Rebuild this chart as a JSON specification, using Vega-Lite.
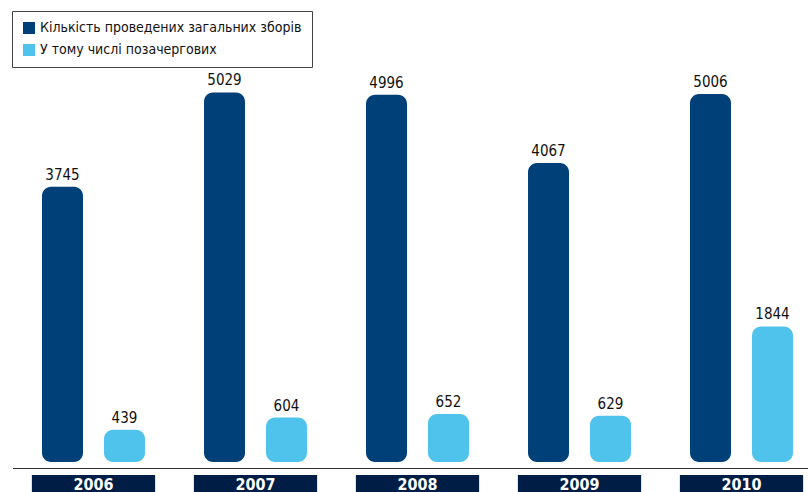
{
  "$schema": "https://vega.github.io/schema/vega-lite/v6.json",
  "autosize": "none",
  "width": 796,
  "height": 492,
  "padding": {"left": 12, "top": 0, "right": 0, "bottom": 0},
  "background": "white",
  "config": {
    "view": {"stroke": null},
    "font": "'DejaVu Sans Condensed', Roboto, sans-serif"
  },
  "data": {
    "values": [
      {"year": "2006", "series": "Кількість проведених загальних зборів", "value": 3745},
      {"year": "2006", "series": "У тому числі позачергових", "value": 439},
      {"year": "2007", "series": "Кількість проведених загальних зборів", "value": 5029},
      {"year": "2007", "series": "У тому числі позачергових", "value": 604},
      {"year": "2008", "series": "Кількість проведених загальних зборів", "value": 4996},
      {"year": "2008", "series": "У тому числі позачергових", "value": 652},
      {"year": "2009", "series": "Кількість проведених загальних зборів", "value": 4067},
      {"year": "2009", "series": "У тому числі позачергових", "value": 629},
      {"year": "2010", "series": "Кількість проведених загальних зборів", "value": 5006},
      {"year": "2010", "series": "У тому числі позачергових", "value": 1844}
    ]
  },
  "encoding": {
    "x": {
      "field": "year",
      "type": "nominal",
      "scale": {"range": [0.5, 810.5], "paddingInner": 0, "paddingOuter": 0},
      "axis": {
        "title": null,
        "orient": "bottom",
        "offset": -24,
        "domainColor": "#333333",
        "domainWidth": 1,
        "ticks": false,
        "labelAngle": 0,
        "labelColor": "white",
        "labelFontWeight": "bold",
        "labelFontSize": 16,
        "labelFont": "'DejaVu Sans Condensed', Roboto, sans-serif",
        "labelBaseline": "middle",
        "labelPadding": 16,
        "zindex": 1
      }
    }
  },
  "layer": [
    {
      "mark": {"type": "bar", "color": "#001e45", "width": {"band": 0.76}},
      "encoding": {
        "y": {"datum": -177, "type": "quantitative", "scale": {"domain": [-408, 6286], "nice": false, "zero": false}, "axis": null},
        "y2": {"datum": -408}
      }
    },
    {
      "mark": {"type": "bar", "cornerRadius": 9},
      "encoding": {
        "xOffset": {
          "field": "series",
          "type": "nominal",
          "sort": ["Кількість проведених загальних зборів", "У тому числі позачергових"],
          "scale": {"paddingInner": 0.339, "paddingOuter": 0.476}
        },
        "y": {"field": "value", "type": "quantitative", "axis": null},
        "y2": {"datum": 0},
        "color": {
          "field": "series",
          "type": "nominal",
          "scale": {
            "domain": ["Кількість проведених загальних зборів", "У тому числі позачергових"],
            "range": ["#004078", "#4fc3ec"]
          },
          "legend": {
            "title": null,
            "orient": "none",
            "legendX": 0,
            "legendY": 11,
            "direction": "vertical",
            "symbolType": "square",
            "symbolSize": 144,
            "symbolStrokeWidth": 0,
            "symbolOpacity": 1,
            "labelFont": "'DejaVu Sans Condensed', Roboto, sans-serif",
            "labelFontSize": 14,
            "labelColor": "#111111",
            "labelLimit": 400,
            "labelOffset": 4,
            "rowPadding": 8,
            "padding": 10,
            "strokeColor": "#444444",
            "fillColor": "white"
          }
        }
      }
    },
    {
      "mark": {"type": "text", "baseline": "bottom", "dy": -4, "fontSize": 15, "color": "#111111", "font": "'DejaVu Sans Condensed', Roboto, sans-serif"},
      "encoding": {
        "xOffset": {
          "field": "series",
          "type": "nominal",
          "sort": ["Кількість проведених загальних зборів", "У тому числі позачергових"],
          "scale": {"paddingInner": 0.339, "paddingOuter": 0.476}
        },
        "y": {"field": "value", "type": "quantitative"},
        "text": {"field": "value", "type": "quantitative", "format": "d"}
      }
    }
  ]
}
